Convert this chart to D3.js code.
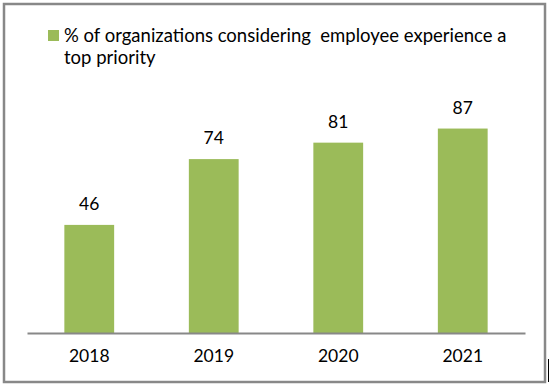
<!DOCTYPE html>
<html>
<head>
<meta charset="utf-8">
<script src="https://cdn.jsdelivr.net/npm/d3@7"></script>
<style>
  body { margin: 0; background: #fff; }
  svg { display: block; font-family: Lato, "Open Sans", sans-serif; }
</style>
</head>
<body>
<div id="chart"></div>
<script>
// Data
const years = ["2018", "2019", "2020", "2021"];
const values = [46, 74, 81, 87];
const seriesName = "% of organizations considering  employee experience a";
const seriesName2 = "top priority";

const W = 550, H = 387;
const barColor = "#9BBB59";

const svg = d3.select("#chart")
  .append("svg")
    .attr("width", W)
    .attr("height", H);

// Outer frame
svg.append("rect")
  .attr("x", 4)
  .attr("y", 4)
  .attr("width", 541)
  .attr("height", 378)
  .attr("fill", "#fff")
  .attr("stroke", "#888")
  .attr("stroke-width", 2.5);

// small dark mark right of the frame (as in the screenshot)
svg.append("line")
  .attr("x1", 548.5).attr("x2", 548.5)
  .attr("y1", 359).attr("y2", 382)
  .attr("stroke", "#000")
  .attr("stroke-width", 1);

// X scale
const x = d3.scaleBand()
  .domain(years)
  .range([27, 525])
  .paddingInner(0.6)
  .paddingOuter(0.3);

// Y scale
const y = d3.scaleLinear()
  .domain([0, 100])
  .range([333, 98]);

// Bars
svg.selectAll(".bar")
  .data(years)
  .enter().append("rect")
    .attr("class", "bar")
    .attr("x", d => x(d))
    .attr("y", (d, i) => y(values[i]))
    .attr("width", x.bandwidth())
    .attr("height", (d, i) => y(0) - y(values[i]))
    .attr("fill", barColor);

// Value labels
svg.selectAll(".val")
  .data(years)
  .enter().append("text")
    .attr("class", "val")
    .attr("x", d => x(d) + x.bandwidth() / 2)
    .attr("y", (d, i) => y(values[i]) - 15)
    .attr("text-anchor", "middle")
    .style("font-size", "17.5px")
    .style("fill", "#000")
    .text((d, i) => values[i]);

// X axis
const xAxis = svg.append("g")
  .attr("transform", `translate(0,${y(0)})`)
  .call(d3.axisBottom(x).tickSize(0).tickPadding(17));

xAxis.select(".domain")
  .attr("stroke", "#888")
  .attr("stroke-width", 2);

xAxis.selectAll("text")
  .style("font-family", "Lato, sans-serif")
  .style("font-size", "17.5px")
  .style("fill", "#000");

// Legend
const legend = svg.append("g");

legend.append("rect")
  .attr("x", 48)
  .attr("y", 30)
  .attr("width", 11)
  .attr("height", 11)
  .attr("fill", barColor);

legend.append("text")
  .attr("x", 64)
  .attr("y", 42)
  .style("font-size", "18.5px")
  .style("fill", "#000")
  .style("white-space", "pre")
  .text(seriesName);

legend.append("text")
  .attr("x", 64)
  .attr("y", 64)
  .style("font-size", "18.5px")
  .style("fill", "#000")
  .text(seriesName2);
</script>
</body>
</html>
